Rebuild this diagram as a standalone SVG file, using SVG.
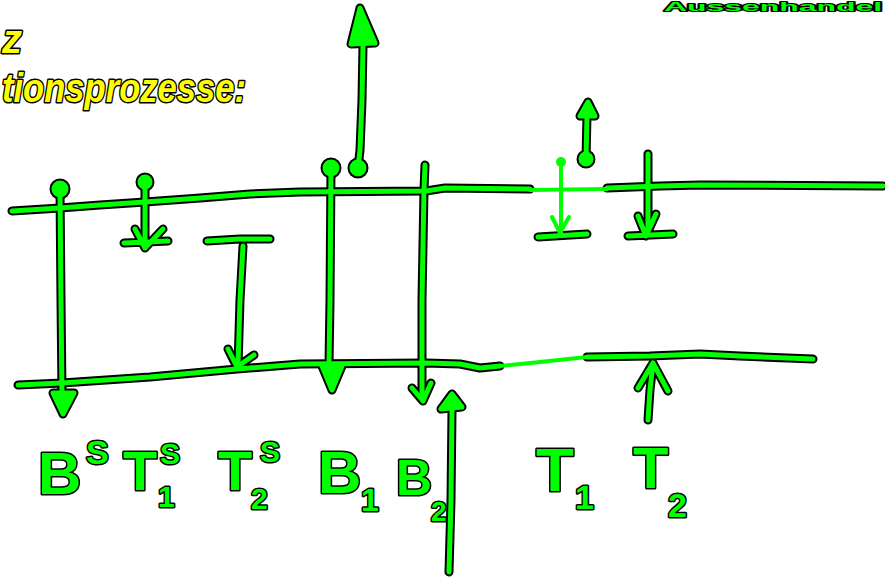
<svg xmlns="http://www.w3.org/2000/svg" xmlns:xlink="http://www.w3.org/1999/xlink" width="885" height="579" viewBox="0 0 885 579">
<style>
.k{fill:none;stroke:#000;stroke-width:9;stroke-linecap:round;stroke-linejoin:round}
.g{fill:none;stroke:#00ff00;stroke-width:5;stroke-linecap:round;stroke-linejoin:round}
.kf{fill:#000;stroke:#000;stroke-width:9;stroke-linejoin:round}
.gf{fill:#00ff00;stroke:#00ff00;stroke-width:5;stroke-linejoin:round}
.lt{fill:none;stroke:#00ff00;stroke-width:4;stroke-linecap:round;stroke-linejoin:round}
.lbl{font-family:"Liberation Sans",Arial,sans-serif;font-weight:bold;fill:#00ff00;stroke:#000;stroke-width:3;paint-order:stroke;stroke-linejoin:round}
.yel{font-family:"Liberation Sans",Arial,sans-serif;font-weight:bold;font-style:italic;fill:#ffff00;stroke:#000;stroke-width:3;paint-order:stroke;stroke-linejoin:round}
</style>
<defs>
<path id="top1" d="M12,211 L60,208 L100,205 L145,202 L200,198 L250,194 L300,192 L426,191 L445,188 L530,189"/>
<path id="top3" d="M607,188 L660,186 L700,185 L883,186"/>
<path id="bot1" d="M18,385 L62,383 L150,377 L237,369 L300,364 L426,363 L460,364 L480,368 L500,366"/>
<path id="bot3" d="M587,357 L650,356 L700,354 L740,356 L813,359"/>
<path id="a1" d="M60,190 L61,300 L62,395"/>
<path id="a1h" d="M53,393 L74,393 L63,414 Z"/>
<path id="a2" d="M145,182 L145,248 M135,229 L145,248 L163,229 M124,243 L168,241"/>
<path id="a3" d="M207,241 L240,239 L270,239 M243,246 L240,300 L238,366 M228,349 L237,367 L254,355"/>
<path id="a4" d="M331,167 L330,300 L329,365"/>
<path id="a4h" d="M322,366 L342,366 L332,390 Z"/>
<path id="a5" d="M358,168 L360,150 L362,100 L363,45"/>
<path id="a5h" d="M360,8 L351,44 L375,43 Z"/>
<path id="a6" d="M425,165 L424,190 L422,300 L422,398 M412,388 L423,401 L431,383"/>
<path id="a7" d="M449,572 L451,500 L452,410"/>
<path id="a7h" d="M452,394 L441,409 L462,407 Z"/>
<path id="a8foot" d="M538,237 L587,234"/>
<path id="a9" d="M586,159 L587,115"/>
<path id="a9h" d="M588,102 L580,116 L595,116 Z"/>
<path id="a10" d="M648,154 L648,234 M638,216 L646,236 L656,214 M628,236 L673,234"/>
<path id="a11" d="M648,420 L650,390 L653,363 M638,388 L653,363 L668,391"/>
<circle id="d1" cx="60" cy="189" r="6"/>
<circle id="d2" cx="145" cy="182" r="5"/>
<circle id="d4" cx="331" cy="168" r="6"/>
<circle id="d5" cx="358" cy="168" r="6"/>
<circle id="d9" cx="586" cy="159" r="5"/>
</defs>
<rect width="885" height="579" fill="#fff"/>

<g id="headings">
<text class="yel" x="2" y="53" font-size="40">z</text>
<text class="yel" x="2" y="102" font-size="40" textLength="244" lengthAdjust="spacingAndGlyphs">tionsprozesse:</text>
<text class="lbl" x="664" y="11" font-size="13" textLength="218" lengthAdjust="spacingAndGlyphs" style="stroke-width:2">Aussenhandel</text>
</g>

<g id="connectors">
<g id="outline">
<use href="#top1" class="k"/><use href="#top3" class="k"/>
<use href="#bot1" class="k"/><use href="#bot3" class="k"/>
<use href="#a1" class="k"/><use href="#a1h" class="kf"/><use href="#d1" class="kf"/>
<use href="#a2" class="k"/><use href="#d2" class="kf"/>
<use href="#a3" class="k"/>
<use href="#a4" class="k"/><use href="#a4h" class="kf"/><use href="#d4" class="kf"/>
<use href="#a5" class="k"/><use href="#a5h" class="kf"/><use href="#d5" class="kf"/>
<use href="#a6" class="k"/>
<use href="#a7" class="k"/><use href="#a7h" class="kf"/>
<use href="#a8foot" class="k"/>
<use href="#a9" class="k"/><use href="#a9h" class="kf"/><use href="#d9" class="kf"/>
<use href="#a10" class="k"/>
<use href="#a11" class="k"/>
</g>
<g id="fill">
<use href="#top1" class="g"/><use href="#top3" class="g"/>
<use href="#bot1" class="g"/><use href="#bot3" class="g"/>
<use href="#a1" class="g"/><use href="#a1h" class="gf"/><use href="#d1" class="gf"/>
<use href="#a2" class="g"/><use href="#d2" class="gf"/>
<use href="#a3" class="g"/>
<use href="#a4" class="g"/><use href="#a4h" class="gf"/><use href="#d4" class="gf"/>
<use href="#a5" class="g"/><use href="#a5h" class="gf"/><use href="#d5" class="gf"/>
<use href="#a6" class="g"/>
<use href="#a7" class="g"/><use href="#a7h" class="gf"/>
<use href="#a8foot" class="g"/>
<use href="#a9" class="g"/><use href="#a9h" class="gf"/><use href="#d9" class="gf"/>
<use href="#a10" class="g"/>
<use href="#a11" class="g"/>
</g>
<g id="light">
<path class="lt" d="M530,190 L607,189"/>
<path class="lt" d="M500,366 L540,362 L587,357"/>
<path class="lt" d="M561,162 L561,233 M552,217 L560,233 L569,217"/>
<circle cx="561" cy="162" r="5" fill="#00ff00"/>
</g>
</g>

<g id="label-BS"><text class="lbl" x="38" y="494" font-size="60">B<tspan x="86" y="464" font-size="34">S</tspan></text></g>
<g id="label-T1S"><text class="lbl" x="123" y="490" font-size="56">T<tspan x="160" y="464" font-size="30">S</tspan><tspan x="158" y="507" font-size="30">1</tspan></text></g>
<g id="label-T2S"><text class="lbl" x="218" y="490" font-size="56">T<tspan x="260" y="462" font-size="30">S</tspan><tspan x="251" y="509" font-size="30">2</tspan></text></g>
<g id="label-B1"><text class="lbl" x="318" y="493" font-size="60">B<tspan x="361" y="511" font-size="32">1</tspan></text></g>
<g id="label-B2"><text class="lbl" x="396" y="495" font-size="50">B<tspan x="431" y="521" font-size="28">2</tspan></text></g>
<g id="label-T1"><text class="lbl" x="536" y="491" font-size="62">T<tspan x="575" y="509" font-size="34">1</tspan></text></g>
<g id="label-T2"><text class="lbl" x="633" y="488" font-size="58">T<tspan x="668" y="517" font-size="34">2</tspan></text></g>
</svg>
